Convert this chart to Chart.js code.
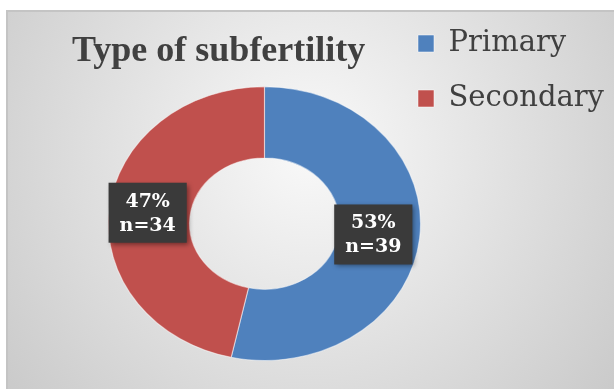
<!DOCTYPE html>
<html>
<head>
<meta charset="utf-8">
<script src="https://cdn.jsdelivr.net/npm/chart.js@4"></script>
<style>
  body { margin: 0; background: #fff; }
  canvas { display: block; }
</style>
</head>
<body>
<canvas id="grafico" width="614" height="389"></canvas>
<script>
const categorias = ["Primary", "Secondary"];
const pacientes = [39, 34];
const porcentajes = [53, 47];

const colores = ["#4F81BD", "#C0504D"];
// the doughnut in the original is wider than it is tall
const ESTIRAR_X = 1.14;

const fondo = {
  id: "fondo",
  beforeDraw(chart) {
    const ctx = chart.ctx;
    ctx.save();
    ctx.fillStyle = "#fff";
    ctx.fillRect(0, 0, chart.width, chart.height);
    const grad = ctx.createRadialGradient(310, 150, 10, 310, 150, 420);
    grad.addColorStop(0, "#f8f8f8");
    grad.addColorStop(1, "#c6c6c6");
    ctx.fillStyle = grad;
    ctx.fillRect(7, 11, chart.width - 7, chart.height - 11);
    ctx.strokeStyle = "#c4c4c4";
    ctx.lineWidth = 2;
    ctx.beginPath();
    ctx.moveTo(7, chart.height);
    ctx.lineTo(7, 11);
    ctx.lineTo(chart.width, 11);
    ctx.stroke();
    ctx.restore();
  }
};

const etiquetas = {
  id: "etiquetas",
  beforeDatasetsDraw(chart) {
    chart.ctx.save();
    chart.ctx.scale(ESTIRAR_X, 1);
  },
  afterDatasetsDraw(chart) {
    const ctx = chart.ctx;
    ctx.restore();
    const arcos = chart.getDatasetMeta(0).data;
    ctx.save();
    ctx.font = "bold 19px 'DejaVu Serif'";
    ctx.textAlign = "center";
    ctx.textBaseline = "middle";
    arcos.forEach((arco, i) => {
      const pos = arco.tooltipPosition();
      const x = pos.x * ESTIRAR_X - (i === 0 ? 6 : 2);
      const y = pos.y;
      const lineas = [porcentajes[i] + "%", "n=" + pacientes[i]];
      const ancho = Math.max(...lineas.map(t => ctx.measureText(t).width)) + 22;
      const alto = 60;
      ctx.shadowColor = "rgba(0,0,0,0.45)";
      ctx.shadowBlur = 5;
      ctx.shadowOffsetX = 2;
      ctx.shadowOffsetY = 2;
      ctx.fillStyle = "#3a3a3a";
      ctx.fillRect(x - ancho / 2, y - alto / 2, ancho, alto);
      ctx.shadowColor = "transparent";
      ctx.fillStyle = "#fff";
      ctx.fillText(lineas[0], x, y - 11);
      ctx.fillText(lineas[1], x, y + 13);
    });
    ctx.restore();
  }
};

new Chart(document.getElementById("grafico"), {
  type: "doughnut",
  data: {
    labels: categorias,
    datasets: [{
      data: pacientes,
      backgroundColor: colores,
      borderColor: "rgba(255,255,255,0.5)",
      borderWidth: 1
    }]
  },
  options: {
    responsive: false,
    animation: false,
    cutout: "48%",
    layout: { padding: { left: 72, top: 3, right: 0, bottom: 28 } },
    plugins: {
      title: {
        display: true,
        text: "Type of subfertility",
        align: "start",
        color: "#404040",
        font: { family: "'Liberation Serif', serif", size: 36, weight: "bold" },
        padding: { top: 27, bottom: 13 }
      },
      legend: {
        position: "right",
        align: "start",
        labels: {
          color: "#404040",
          font: { family: "'DejaVu Serif', serif", size: 29 },
          boxWidth: 16,
          boxHeight: 17,
          padding: 26
        }
      },
      tooltip: { enabled: false }
    }
  },
  plugins: [fondo, etiquetas]
});
</script>
</body>
</html>
